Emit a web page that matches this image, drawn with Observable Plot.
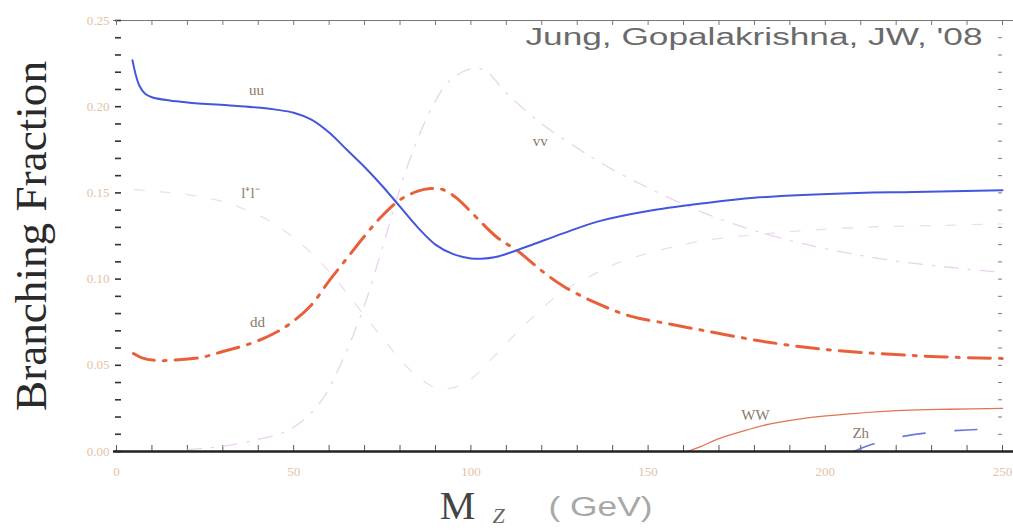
<!DOCTYPE html>
<html><head><meta charset="utf-8">
<script src="https://cdn.jsdelivr.net/npm/d3@7"></script>
<script src="https://cdn.jsdelivr.net/npm/@observablehq/plot@0.6"></script>
<style>body{margin:0;background:#fff}</style>
</head><body><div id="chart"></div>
<script>
// ---- data ----
const uuMass = [4.5,5.5,6.5,8,10,15,20,32,40,45,50,55,60,65,70,75,80,85,90,95,100,103,107,112,118,126,136,150,165,180,209,225,250];
const uuBF   = [0.227,0.218,0.212,0.2077,0.2055,0.2036,0.2025,0.2007,0.1995,0.1983,0.1965,0.1925,0.185,0.175,0.165,0.154,0.142,0.13,0.12,0.1145,0.112,0.1118,0.1128,0.116,0.1205,0.1265,0.1335,0.1395,0.1438,0.1472,0.150,0.1505,0.1515];

const ddMass = [4.8,7,11,16,23.7,30,37.8,44,49,55,60,65,70,74.5,80,85,88.6,92,96,100,107.5,113,120.5,126,135,145,156,165.6,184.5,203,231.6,250];
const ddBF   = [0.0568,0.0545,0.0528,0.053,0.0545,0.058,0.0626,0.068,0.0742,0.085,0.099,0.112,0.125,0.1357,0.146,0.151,0.1525,0.152,0.147,0.139,0.124,0.1166,0.104,0.096,0.0865,0.0785,0.074,0.0702,0.0632,0.0586,0.055,0.054];

const llMass = [5,10,20,30,35,43,50,57,63,68,75,82,88,91,95,100,106,112,118,126,135,141,150,165,187,210,230,250];
const llBF   = [0.152,0.151,0.149,0.145,0.1415,0.134,0.124,0.111,0.097,0.084,0.066,0.049,0.039,0.0365,0.037,0.042,0.054,0.067,0.079,0.093,0.103,0.109,0.115,0.122,0.127,0.13,0.131,0.132];

const vvMass = [20,30,40,47,52,58,64,70,76,82,89,94,100,104,110,120,130,137,146,165,187,215,239,250];
const vvBF   = [0.001,0.003,0.007,0.011,0.017,0.03,0.054,0.085,0.125,0.165,0.1996,0.215,0.222,0.221,0.208,0.19,0.176,0.167,0.157,0.139,0.124,0.112,0.106,0.104];

const wwMass = [161,165,170,177,184.5,195,208,222,235,250];
const wwBF   = [0,0.003,0.0075,0.012,0.016,0.0195,0.022,0.0238,0.0245,0.025];

const zhMass = [208,213,220,229.7,240,250];
const zhBF   = [0,0.004,0.008,0.011,0.0125,0.0133];

const yMajor = [0,0.05,0.10,0.15,0.20,0.25];
const yMinor = d3.range(0,26).map(i=>i/100);
const xMajor = [0,50,100,150,200,250];
const xMinor = d3.range(0,26).map(i=>i*10);

const labelText = ["uu","l\u207Al\u207B","dd","vv","WW","Zh"];
const labelMass = [39.5,37.8,39.8,119.6,180.3,210];
const labelBF   = [0.2094,0.1497,0.0748,0.180,0.0209,0.0104];

const citation = "Jung, Gopalakrishna, JW, '08";
const yTitle = "Branching Fraction";

// ---- tables ----
const mk = (m,b)=>m.map((x,i)=>({m:x,bf:b[i]}));
const uu = mk(uuMass,uuBF), dd = mk(ddMass,ddBF), ll = mk(llMass,llBF),
      vv = mk(vvMass,vvBF), ww = mk(wwMass,wwBF), zh = mk(zhMass,zhBF);
const labels = labelText.map((t,i)=>({t, m:labelMass[i], bf:labelBF[i]}));

const W=1013, H=531, mL=116, mR=11, mT=20, mB=80;
const pW = W-mL-mR, pH = H-mT-mB;

const chart = Plot.plot({
  width: W, height: H,
  marginLeft: mL, marginRight: mR, marginTop: mT, marginBottom: mB,
  style: {fontFamily: "Liberation Serif", background: "#fff"},
  x: {domain: [0,250], label: null},
  y: {domain: [0,0.25], label: null},
  marks: [
    Plot.axisY({ticks: yMajor, tickSize: 0, tickPadding: 7, tickFormat: d3.format(".2f"), fontSize: 13, color: "#e4c2a6", label: null}),
    Plot.axisX({ticks: xMajor, tickSize: 0, tickPadding: 15, tickFormat: d3.format("d"), fontSize: 13, color: "#e4c2a6", label: null}),
    // frame lines
    Plot.ruleY([0.25], {stroke: "#777", strokeWidth: 1, insetLeft: -3, insetRight: -11}),
    // ticks
    Plot.tickY(yMinor, {y: d=>d, stroke: "#333", strokeWidth: 1.6, insetRight: pW-5, insetLeft: -1}),
    Plot.tickY(yMinor, {y: d=>d, stroke: "#777", strokeWidth: 1, insetLeft: pW-4}),
    Plot.tickX(xMinor, {x: d=>d, stroke: "#555", strokeWidth: 1, insetTop: pH-6}),
    Plot.tickX(xMinor, {x: d=>d, stroke: "#777", strokeWidth: 1, insetBottom: pH-5}),
    // faint curves
    Plot.line(ll, {x:"m", y:"bf", stroke:"#e8e0ee", strokeWidth:1.3, strokeDasharray:"10,16", curve:"catmull-rom"}),
    Plot.line(vv, {x:"m", y:"bf", stroke:"#ead2ee", strokeWidth:1.3, strokeDasharray:"14,10,2,10", curve:"catmull-rom"}),
    // main curves
    Plot.line(ww, {x:"m", y:"bf", stroke:"#e27452", strokeWidth:1.3, curve:"catmull-rom"}),
    Plot.line(zh, {x:"m", y:"bf", stroke:"#6a78dc", strokeWidth:1.6, strokeDasharray:"22,30", curve:"catmull-rom"}),
    Plot.line(dd, {x:"m", y:"bf", stroke:"#e8603a", strokeWidth:3, strokeDasharray:"22,9,3,9", curve:"catmull-rom"}),
    Plot.line(uu, {x:"m", y:"bf", stroke:"#4456dc", strokeWidth:2, curve:"catmull-rom"}),
    Plot.ruleY([0], {stroke: "#222", strokeWidth: 2.5, insetLeft: -3, insetRight: -11}),
    // curve labels
    Plot.text(labels, {x:"m", y:"bf", text:"t", fontSize:15, fill:"#8a7868", fontFamily:"Liberation Serif"}),
    // citation
    Plot.text([citation], {frameAnchor:"top-right", lineAnchor:"middle", textAnchor:"end", dx:-20, dy:17, fontSize:23, fontFamily:"Liberation Sans", fill:"#6a6a6a"}),
    // axis titles
    Plot.text([yTitle], {frameAnchor:"left", textAnchor:"middle", lineAnchor:"middle", rotate:-90, dx:-85, fontSize:44, fill:"#2a2a2a", fontFamily:"Liberation Serif"}),
    Plot.text(["M"], {frameAnchor:"bottom", textAnchor:"middle", lineAnchor:"middle", dx:-102, dy:55, fontSize:40, fill:"#444", fontFamily:"Liberation Serif"}),
    Plot.text(["Z"], {frameAnchor:"bottom", textAnchor:"middle", lineAnchor:"middle", dx:-61, dy:64, fontSize:22, fill:"#666", fontStyle:"italic", fontFamily:"Liberation Serif"}),
    Plot.text(["( GeV)"], {frameAnchor:"bottom", textAnchor:"middle", lineAnchor:"middle", dx:41, dy:56, fontSize:27, fill:"#a8a8a8", fontFamily:"Liberation Sans"})
  ]
});
document.getElementById("chart").appendChild(chart);
d3.select(chart).selectAll("text").each(function(){
  if (this.textContent === citation) {
    d3.select(this).attr("textLength", 457).attr("lengthAdjust", "spacingAndGlyphs");
  }
  if (this.textContent === "( GeV)") {
    d3.select(this).attr("textLength", 104).attr("lengthAdjust", "spacingAndGlyphs");
  }
  if (this.textContent === yTitle) {
    d3.select(this).attr("textLength", 350).attr("lengthAdjust", "spacingAndGlyphs");
  }
});
</script>
</body></html>
